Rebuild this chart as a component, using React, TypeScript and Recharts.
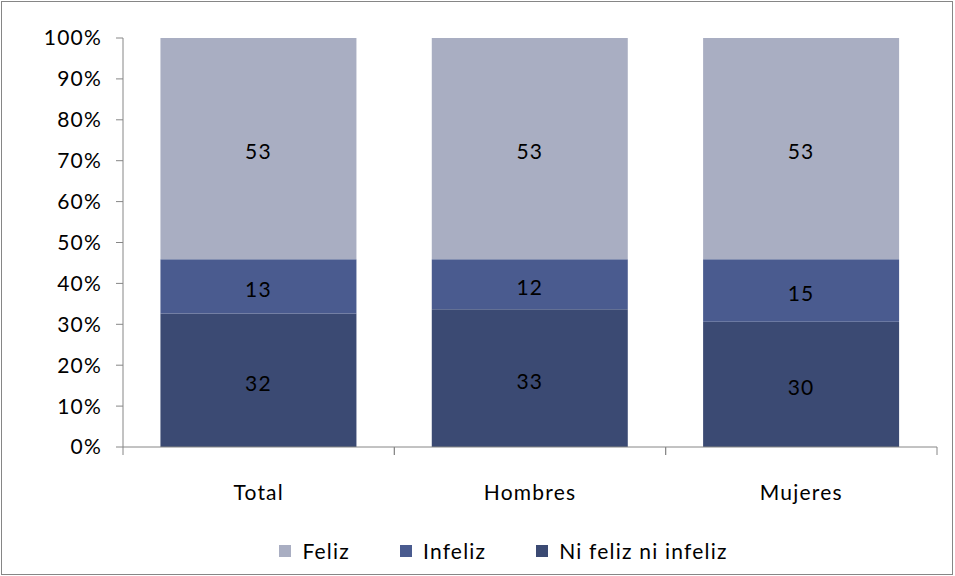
import React from "react";
import { BarChart, Bar, XAxis, YAxis, Legend, LabelList } from "recharts";

const categories = ["Total", "Hombres", "Mujeres"];
const niFeliz = [32, 33, 30];
const infeliz = [13, 12, 15];
const feliz = [53, 53, 53];
const yTicks = [0, 0.1, 0.2, 0.3, 0.4, 0.5, 0.6, 0.7, 0.8, 0.9, 1];

// stacking order, bottom to top
const series = [
  { key: "niFeliz", name: "Ni feliz ni infeliz", color: "#3B4A73" },
  { key: "infeliz", name: "Infeliz", color: "#4A5B8F" },
  { key: "feliz", name: "Feliz", color: "#A9AEC2" },
];

const data = categories.map((c, i) => ({
  name: c,
  niFeliz: niFeliz[i],
  infeliz: infeliz[i],
  feliz: feliz[i],
}));

const font = "Lato, 'Open Sans', sans-serif";
const textStyle = { fill: "#000", fontSize: 21, fontFamily: font, letterSpacing: 1.2 };

// category tick: marks sit on the band edges, label in the middle
function CatTick(props: any) {
  const { x, y, payload } = props;
  const half = payload && payload.offset ? payload.offset : 0;
  return (
    <g>
      {half > 0 && (
        <>
          <line x1={x - half} x2={x - half} y1={y} y2={y + 8} stroke="#868686" />
          <line x1={x + half} x2={x + half} y1={y} y2={y + 8} stroke="#868686" />
        </>
      )}
      <text x={x} y={y + 48} textAnchor="middle" dominantBaseline="middle" {...textStyle}>
        {payload.value}
      </text>
    </g>
  );
}

function LegendBox() {
  const items = [...series].reverse();
  return (
    <div
      style={{
        display: "flex",
        justifyContent: "center",
        gap: 50,
        paddingLeft: 50,
        fontFamily: font,
        fontSize: 21,
        letterSpacing: 1.2,
        color: "#000",
      }}
    >
      {items.map((s) => (
        <div key={s.key} style={{ display: "flex", alignItems: "center", gap: 11 }}>
          <div style={{ width: 12, height: 12, backgroundColor: s.color }} />
          <span>{s.name}</span>
        </div>
      ))}
    </div>
  );
}

export default function App() {
  return (
    <div style={{ position: "relative", width: 955, height: 576, background: "#fff" }}>
      <style>{"body{margin:0}"}</style>
      <div
        style={{
          position: "absolute",
          left: 1,
          top: 1,
          width: 950,
          height: 572,
          border: "1px solid #868686",
        }}
      />
      <div style={{ position: "absolute", left: 0, top: 0 }}>
        <BarChart
          width={955}
          height={576}
          data={data}
          stackOffset="expand"
          barCategoryGap="13.8%"
          margin={{ top: 38, right: 18, bottom: 8, left: 20 }}
        >
          <XAxis
            dataKey="name"
            stroke="#868686"
            tickLine={false}
            tickSize={0}
            tickMargin={0}
            height={91}
            tick={<CatTick />}
          />
          <YAxis
            width={103}
            ticks={yTicks}
            domain={[0, 1]}
            tickFormatter={(v: number) => `${Math.round(v * 100)}%`}
            tickSize={7}
            tickMargin={14}
            stroke="#868686"
            tick={textStyle}
          />
          <Legend verticalAlign="bottom" height={30} content={() => <LegendBox />} />
          {series.map((s) => (
            <Bar
              key={s.key}
              dataKey={s.key}
              name={s.name}
              stackId="a"
              fill={s.color}
              isAnimationActive={false}
            >
              <LabelList dataKey={s.key} position="center" dy={3} {...textStyle} />
            </Bar>
          ))}
        </BarChart>
      </div>
    </div>
  );
}
